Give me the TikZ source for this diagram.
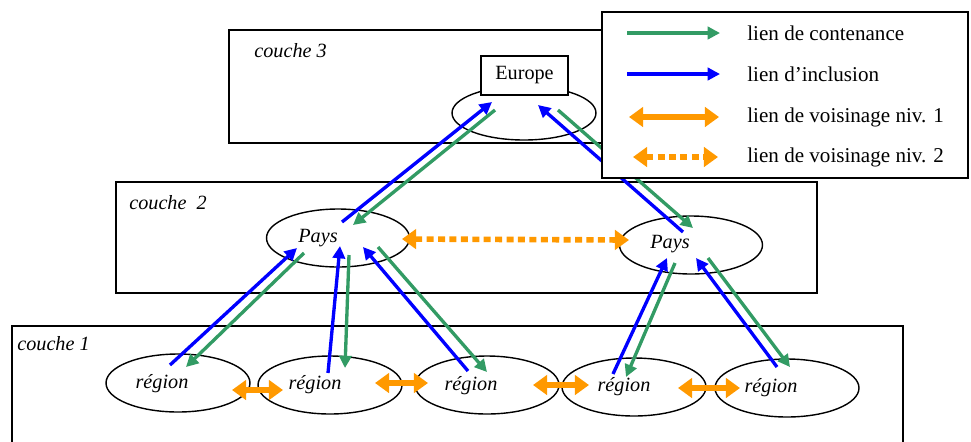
\documentclass[tikz,border=0pt]{standalone}
\usepackage{fontspec}
\setmainfont{Liberation Serif}
\usetikzlibrary{arrows.meta,shapes.geometric}

\definecolor{vertlien}{RGB}{50,155,100}
\definecolor{bleulien}{RGB}{0,0,255}
\definecolor{orangelien}{RGB}{255,153,0}

\begin{document}
\begin{tikzpicture}[x=0.02cm, y=-0.02cm,
  couche/.style={draw, line width=0.7pt},
  zone/.style={draw, ellipse, line width=0.8pt, minimum width=2.88cm, minimum height=1.16cm, inner sep=0pt},
  lbl/.style={inner sep=0pt, font=\fontsize{11.5}{13}\selectfont\itshape},
  leg/.style={inner sep=0pt, anchor=west, font=\fontsize{12}{14}\selectfont},
  cont/.style={draw=vertlien, line width=1.9pt, -{Triangle[length=7pt,width=7pt]}},
  incl/.style={draw=bleulien, line width=1.9pt, -{Triangle[length=7pt,width=7pt]}},
  vois/.style={draw=orangelien, line width=3.2pt, {Triangle[length=8pt,width=11pt]}-{Triangle[length=8pt,width=11pt]}},
  voisbis/.style={vois, dash pattern=on 4pt off 2.5pt}]
\useasboundingbox (0,0) rectangle (971,441);

% les trois couches
\draw[couche] (12,326) rectangle (903,470);
\draw[couche] (116,182) rectangle (817,293);
\draw[couche] (229,30) rectangle (650,143);
\node[lbl, anchor=west] (c3) at (254,51) {couche 3};
\node[lbl, anchor=west] (c2) at (129,203) {couche\ \ 2};
\node[lbl, anchor=west] (c1) at (17,344) {couche 1};

% couche 3
\node[zone, minimum height=1.08cm] (eu) at (524,113) {};
\node[draw, fill=white, line width=0.7pt, minimum width=1.74cm, minimum height=0.78cm, inner sep=0pt,
  font=\fontsize{11.5}{13}\selectfont] (eut) at (524.5,75.5) {Europe};

% couche 2
\node[zone, minimum width=2.86cm] (p1) at (338,238) {};
\node[zone, minimum width=2.86cm] (p2) at (691,245) {};
\node[lbl] (p1t) at ([shift={(-20,0)}]p1.center) {Pays};
\node[lbl] (p2t) at ([shift={(-21,-1)}]p2.center) {Pays};

% couche 1
\node[zone] (r1) at (178,383) {};
\node[zone] (r2) at (330,385) {};
\node[zone] (r3) at (487,385) {};
\node[zone] (r4) at (634,387) {};
\node[zone] (r5) at (787,388) {};
\node[lbl] (r1t) at ([shift={(-16,1)}]r1.center) {région};
\node[lbl] (r2t) at ([shift={(-15,0)}]r2.center) {région};
\node[lbl] (r3t) at ([shift={(-16,1)}]r3.center) {région};
\node[lbl] (r4t) at ([shift={(-10,0)}]r4.center) {région};
\node[lbl] (r5t) at ([shift={(-16,0)}]r5.center) {région};

% liens region -> pays
\draw[incl] ([shift={(-8,-18)}]r1.center) -- ([shift={(-41,10)}]p1.center);
\draw[cont] ([shift={(-34,15)}]p1.center) -- ([shift={(8,-16)}]r1.center);
\draw[incl] ([shift={(-2,-12)}]r2.center) -- ([shift={(2,8)}]p1.center);
\draw[cont] ([shift={(11,17)}]p1.center) -- ([shift={(15,-17)}]r2.center);
\draw[incl] ([shift={(-19,-14)}]r3.center) -- ([shift={(25,9)}]p1.center);
\draw[cont] ([shift={(40,9)}]p1.center) -- ([shift={(0,-13)}]r3.center);
\draw[incl] ([shift={(-21,-13)}]r4.center) -- ([shift={(-24,13)}]p2.center);
\draw[cont] ([shift={(-16,18)}]p2.center) -- ([shift={(-8,-10)}]r4.center);
\draw[incl] ([shift={(-10,-21)}]r5.center) -- ([shift={(5,13)}]p2.center);
\draw[cont] ([shift={(17,13)}]p2.center) -- ([shift={(3,-21)}]r5.center);

% liens pays -> europe
\draw[incl] ([shift={(4,-16)}]p1.center) -- ([shift={(-32,-11)}]eu.center);
\draw[cont] ([shift={(-29,-3)}]eu.center) -- ([shift={(15,-13)}]p1.center);
\draw[incl] ([shift={(-8,-13)}]p2.center) -- ([shift={(14,-8)}]eu.center);
\draw[cont] ([shift={(34,-3)}]eu.center) -- ([shift={(2,-17)}]p2.center);

% voisinage
\draw[voisbis] ([shift={(64,1)}]p1.center) -- ([shift={(-62,-5)}]p2.center);
\draw[vois] ([shift={(54,7)}]r1.center) -- ([shift={(-47,5)}]r2.center);
\draw[vois] ([shift={(45,-2)}]r2.center) -- ([shift={(-59,-2)}]r3.center);
\draw[vois] ([shift={(46,0)}]r3.center) -- ([shift={(-45,-2)}]r4.center);
\draw[vois] ([shift={(44,1)}]r4.center) -- ([shift={(-47,0)}]r5.center);

% legende
\draw[line width=1.4pt, fill=white] (602,12) rectangle (968,178);
\coordinate (k1a) at (627,33);  \coordinate (k1b) at (720,33);
\coordinate (k2a) at (627,74);  \coordinate (k2b) at (720,74);
\coordinate (k3a) at (629,117); \coordinate (k3b) at (719,117);
\coordinate (k4a) at (633,157); \coordinate (k4b) at (718,157);
\draw[cont] (k1a) -- (k1b);
\draw[incl] (k2a) -- (k2b);
\draw[vois] (k3a) -- (k3b);
\draw[voisbis] (k4a) -- (k4b);
\node[leg] (t1) at (747,33) {lien de contenance};
\node[leg] (t2) at (747,74) {lien d’inclusion};
\node[leg] (t3) at (747,117) {lien de voisinage niv. 1};
\node[leg] (t4) at (747,157) {lien de voisinage niv. 2};
\end{tikzpicture}
\end{document}
